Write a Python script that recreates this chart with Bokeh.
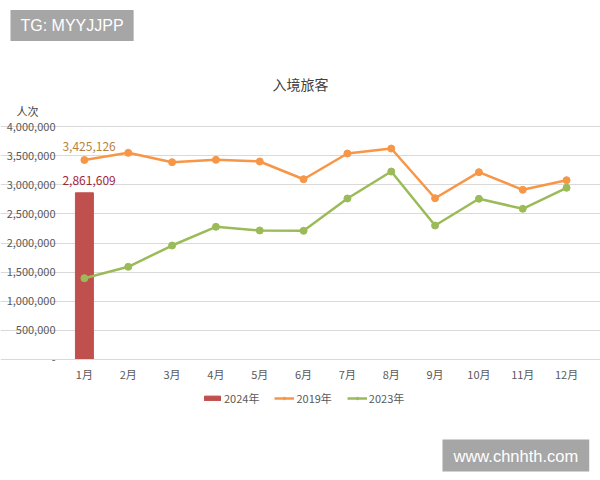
from bokeh.plotting import figure
from bokeh.models import Legend, LegendItem, FixedTicker, Label, Range1d
from bokeh.core.properties import value
from bokeh.embed import file_html
from bokeh.resources import INLINE

months = ["1月", "2月", "3月", "4月", "5月", "6月", "7月", "8月", "9月", "10月", "11月", "12月"]
months_2024 = ["1月"]
v2024 = [2861609]
v2019 = [3425126, 3548000, 3387000, 3428000, 3399000, 3095000, 3536000, 3622000, 2769000, 3216000, 2913000, 3078000]
v2023 = [1396000, 1591000, 1957000, 2278000, 2215000, 2209000, 2764000, 3227000, 2300000, 2759000, 2587000, 2948000]
y_ticks = [0, 500000, 1000000, 1500000, 2000000, 2500000, 3000000, 3500000, 4000000]
series_names = ["2024年", "2019年", "2023年"]
title_text = "入境旅客"
y_unit = "人次"
watermark_top = "TG: MYYJJPP"
watermark_bottom = "www.chnhth.com"

FONT = "Noto Sans CJK SC"
RED = "#C0504D"
ORANGE = "#F79646"
GREEN = "#9BBB59"
GREY_BOX = "#A6A6A6"

# category positions (index of each month) and page geometry
xpos = list(range(len(months)))
pos_2024 = [months.index(m) for m in months_2024]
W, H = 600, 480
PLOT_L, PLOT_R, PLOT_T, PLOT_B = 62, 588, 126, 359
YMAX = y_ticks[-1]
px_per_cat = (PLOT_R - PLOT_L) / len(months)
px_per_val = (PLOT_B - PLOT_T) / YMAX
x_lo = -0.5 - PLOT_L / px_per_cat
x_hi = len(months) - 0.5 + (W - PLOT_R) / px_per_cat
y_lo = -(H - PLOT_B) / px_per_val
y_hi = YMAX + PLOT_T / px_per_val

p = figure(width=W, height=H, x_range=Range1d(x_lo, x_hi), y_range=Range1d(y_lo, y_hi),
           title=None, min_border=0, output_backend="svg", toolbar_location=None)
p.outline_line_color = None
p.background_fill_color = "white"
p.border_fill_color = "white"

bars = p.vbar(x=pos_2024, top=v2024, width=0.41, color=RED)
l19 = p.line(xpos, v2019, line_color=ORANGE, line_width=2.5)
s19 = p.scatter(xpos, v2019, size=7, color=ORANGE)
l23 = p.line(xpos, v2023, line_color=GREEN, line_width=2.5)
s23 = p.scatter(xpos, v2023, size=7, color=GREEN)

p.text(x=[xpos[0]], y=[v2019[0]], text=[f"{v2019[0]:,}"], x_offset=-22, y_offset=-13,
       text_align="left", text_baseline="middle", text_font=value(FONT),
       text_font_size="12px", text_color="#B8823C")
p.text(x=pos_2024, y=v2024, text=[f"{v2024[0]:,}"], x_offset=-22, y_offset=-12,
       text_align="left", text_baseline="middle", text_font=value(FONT),
       text_font_size="12px", text_color="#A32638")

# axes drawn at fixed positions inside the canvas
xa, ya = p.xaxis[0], p.yaxis[0]
xa.fixed_location = 0
xa.ticker = FixedTicker(ticks=xpos)
xa.major_label_overrides = {i: m for i, m in zip(xpos, months)}
xa.bounds = (-0.5, len(months) - 0.5)
ya.fixed_location = -0.5
ya.ticker = FixedTicker(ticks=y_ticks)
ya.major_label_overrides = {t: ("-" if t == 0 else f"{t:,}") for t in y_ticks}
ya.bounds = (0, YMAX)
for ax in (xa, ya):
    ax.major_tick_line_color = None
    ax.minor_tick_line_color = None
    ax.major_tick_out = 0
    ax.major_tick_in = 0
    ax.minor_tick_out = 0
    ax.minor_tick_in = 0
    ax.major_label_text_font = FONT
    ax.major_label_text_font_size = "11px"
    ax.major_label_text_color = "#595959"
ya.axis_line_color = None
ya.major_label_standoff = 7
xa.axis_line_color = "#D9D9D9"
xa.major_label_standoff = 6

p.xgrid.visible = False
p.ygrid.grid_line_color = "#D9D9D9"
p.ygrid.grid_line_width = 1
p.ygrid.bounds = (-0.5, len(months) - 0.5)

legend = Legend(items=[
    LegendItem(label=series_names[0], renderers=[bars]),
    LegendItem(label=series_names[1], renderers=[l19, s19]),
    LegendItem(label=series_names[2], renderers=[l23, s23]),
], orientation="horizontal", location=(202, H - 406), padding=0, margin=0,
    spacing=15, glyph_width=20, glyph_height=6, label_standoff=2,
    label_text_font=FONT, label_text_font_size="11px", label_text_color="#595959",
    border_line_color=None, background_fill_alpha=0)
p.add_layout(legend, "center")

def screen_label(x, y_top, text, **kw):
    p.add_layout(Label(x=x, y=H - y_top, x_units="screen", y_units="screen", text=text,
                       text_baseline="middle", **kw))

screen_label(10, 25, watermark_top, text_align="left", text_font="Liberation Sans",
             text_font_size="16px", text_color="white",
             background_fill_color=GREY_BOX, padding=(10, 7))
screen_label(300, 83, title_text, text_align="center", text_font=FONT,
             text_font_size="14px", text_color="#404040")
screen_label(27, 110.5, y_unit, text_align="center", text_font=FONT,
             text_font_size="11px", text_color="#404040")
screen_label(442, 455, watermark_bottom, text_align="left", text_font="Liberation Sans",
             text_font_size="16.5px", text_color="white",
             background_fill_color=GREY_BOX, padding=(11, 7))

open("out.html", "w").write(file_html(p, INLINE))
